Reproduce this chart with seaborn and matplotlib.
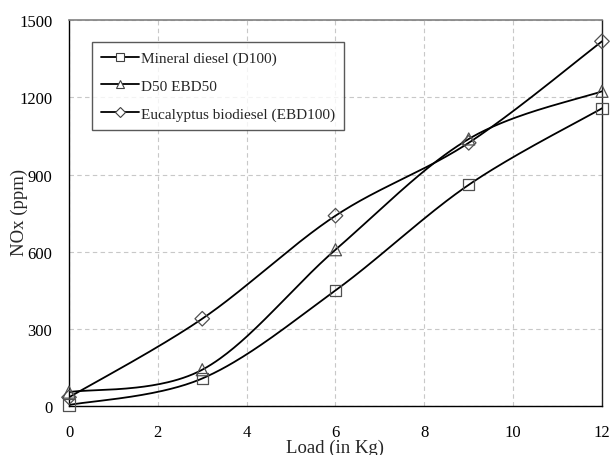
import numpy as np
import pandas as pd
import matplotlib
matplotlib.use("Agg")
import matplotlib.pyplot as plt
from matplotlib.lines import Line2D
from matplotlib.ticker import MultipleLocator
import seaborn as sns

# Engine load (kg) and NOx emissions (ppm)
load = [0, 3, 6, 9, 12]
nox_d100 = [5, 108, 450, 860, 1157]
nox_d50 = [55, 142, 608, 1038, 1223]
nox_ebd100 = [35, 340, 740, 1023, 1417]

labels = ["Mineral diesel (D100)", "D50 EBD50", "Eucalyptus biodiesel (EBD100)"]
markers = ["s", "^", "D"]
marker_area = [64, 75, 55]
series = [nox_d100, nox_d50, nox_ebd100]

sns.set_theme(style="white")
plt.rcParams["font.family"] = ["Liberation Serif", "DejaVu Serif"]


def smooth_curve(xs, ys, n=60):
    """Cubic Bezier smoothing through the points (Catmull-Rom style)."""
    p = np.column_stack([xs, ys]).astype(float)
    ext = np.vstack([p[0], p, p[-1]])
    out = []
    t = np.linspace(0, 1, n)[:, None]
    for i in range(len(p) - 1):
        p0, p1, p2, p3 = ext[i], ext[i + 1], ext[i + 2], ext[i + 3]
        c1 = p1 + (p2 - p0) / 6.0
        c2 = p2 - (p3 - p1) / 6.0
        seg = ((1 - t) ** 3) * p1 + 3 * ((1 - t) ** 2) * t * c1 + 3 * (1 - t) * t ** 2 * c2 + t ** 3 * p2
        out.append(seg if i == 0 else seg[1:])
    return np.vstack(out)


fig = plt.figure(figsize=(6.13, 4.56), dpi=100)
ax = fig.add_axes([0.1126, 0.1068, 0.8694, 0.8472])

for lab, mk, area, vals in zip(labels, markers, marker_area, series):
    curve = smooth_curve(load, vals)
    cdf = pd.DataFrame({"x": curve[:, 0], "y": curve[:, 1]})
    sns.lineplot(data=cdf, x="x", y="y", sort=False, estimator=None,
                 color="black", linewidth=1.3, ax=ax, zorder=3)
    pdf = pd.DataFrame({"x": load, "y": vals})
    sns.scatterplot(data=pdf, x="x", y="y", marker=mk, s=area,
                    facecolor="none", edgecolor="#505050", linewidth=0.9,
                    ax=ax, zorder=4, clip_on=False)

ax.set_xlim(0, 12)
ax.set_ylim(0, 1500)
ax.xaxis.set_major_locator(MultipleLocator(2))
ax.xaxis.set_minor_locator(MultipleLocator(0.5))
ax.yaxis.set_major_locator(MultipleLocator(300))
ax.yaxis.set_minor_locator(MultipleLocator(60))
ax.tick_params(axis="both", which="both", direction="in", color="black",
               labelsize=12, labelcolor="black")
ax.tick_params(axis="x", which="major", length=4, width=0.8, pad=13)
ax.tick_params(axis="y", which="major", length=4, width=0.8, pad=12)
ax.tick_params(axis="both", which="minor", length=4, width=0.8)
ax.tick_params(top=False, right=False, which="both")
ax.grid(True, which="major", color="#c8c8c8", linestyle=(0, (4, 3)), linewidth=0.8)
ax.set_axisbelow(True)

for side in ["left", "bottom"]:
    ax.spines[side].set_color("black")
    ax.spines[side].set_linewidth(1.0)
ax.spines["top"].set_color("#808080")
ax.spines["top"].set_linewidth(1.2)
ax.spines["right"].set_color("#202020")
ax.spines["right"].set_linewidth(1.0)

ax.set_xlabel("Load (in Kg)", fontsize=13.5, va="center")
ax.xaxis.set_label_coords(0.5, -0.105)
ax.set_ylabel("NOx (ppm)", fontsize=13.5, va="center")
ax.yaxis.set_label_coords(-0.093, 0.505)

handles = [Line2D([0], [0], color="black", linewidth=1.3, marker=mk,
                  markersize=6 if mk != "D" else 5, markerfacecolor="white",
                  markeredgecolor="#404040", markeredgewidth=0.8)
           for mk in markers]
leg = ax.legend(handles, labels, loc="upper left", bbox_to_anchor=(0.043, 0.943),
                frameon=True, fancybox=False, edgecolor="#303030",
                fontsize=11, handlelength=2.5, handletextpad=0.1,
                borderpad=0.6, labelspacing=0.92, borderaxespad=0)
leg.get_frame().set_linewidth(1.0)
leg.set_zorder(5)

fig.savefig("out.png", dpi=100)
